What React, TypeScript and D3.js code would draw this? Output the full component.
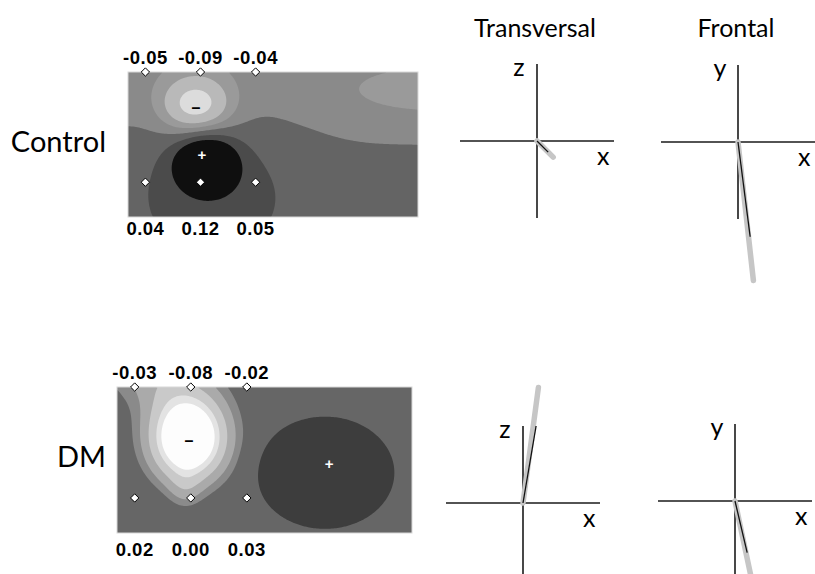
import React, { useMemo } from 'react';
import * as d3 from 'd3';

const W = 815;
const H = 574;

// electrode readings (top row / bottom row)
const controlTop = ['-0.05', '-0.09', '-0.04'];
const controlBottom = ['0.04', '0.12', '0.05'];
const dmTop = ['-0.03', '-0.08', '-0.02'];
const dmBottom = ['0.02', '0.00', '0.03'];

// map domain is 100 x 50 grid units; electrodes sit on this grid
const electrodeCols = [6, 25, 44];
const electrodeRows = [0, 38];

// field sources: [x, y, amplitude, sx, sy, flatness]
const controlSources = [
  [23.4, 11.4, -0.085, 8.3, 6.9, 1],
  [26.9, 31.0, 0.1, 6.9, 6.2, 1],
  [29.0, 37.9, 0.035, 18.5, 13.8, 1],
  [105, 7, -0.03, 18, 5, 1],
];
const dmSources = [
  [24.1, 17.5, -0.12, 10.2, 11.9, 1],
  [23, 36, -0.015, 4, 5, 1],
  [10, -5, -0.03, 12, 8, 1],
  [70.5, 28.8, 0.06, 16.9, 13.8, 3],
  [104, -4, -0.02, 8, 9, 1],
];
// baseline value at top and bottom edge of the map
const controlBase = [-0.022, 0.002];
const dmBase = [-0.01, 0.0];

const controlThresholds = [-0.08, -0.05, -0.03, -0.01, 0.015, 0.04];
const controlGrays = ['#dcdcdc', '#b9b9b9', '#9a9a9a', '#8a8a8a', '#646464', '#4b4b4b', '#0f0f0f'];
const dmThresholds = [-0.088, -0.076, -0.058, -0.041, -0.029, 0.02];
const dmGrays = ['#fdfdfd', '#e3e3e3', '#c9c9c9', '#aaaaaa', '#8a8a8a', '#666666', '#3d3d3d'];

// extrema markers [x, y, sign]
const controlExtrema = [[23.4, 12.4, '-'], [25.5, 28.6, '+']];
const dmExtrema = [[24.4, 18.3, '-'], [71.9, 26.1, '+']];

// heart vectors, in axis units (gray = max vector, black = mean)
const controlTransGray = [0.21, -0.21];
const controlTransBlack = [0.145, -0.145];
const controlFrontGray = [0.2, -1.8];
const controlFrontBlack = [0.158, -1.23];
const dmTransGray = [0.2, 1.5];
const dmTransBlack = [0.17, 1.0];
const dmFrontGray = [0.25, -1.18];
const dmFrontBlack = [0.158, -0.67];

const NX = 200;
const NY = 100;

function fieldGrid(sources, base) {
  const values = new Array(NX * NY);
  for (let j = 0; j < NY; j++) {
    for (let i = 0; i < NX; i++) {
      const gx = ((i + 0.5) / NX) * 100;
      const gy = ((j + 0.5) / NY) * 50;
      let v = base[0] + ((base[1] - base[0]) * gy) / 50;
      for (const [cx, cy, a, sx, sy, p] of sources) {
        const r2 = ((gx - cx) / sx) ** 2 + ((gy - cy) / sy) ** 2;
        v += a * Math.exp(-Math.pow(r2 / 2, p));
      }
      values[i + j * NX] = v;
    }
  }
  return values;
}

const labelFont = 'Liberation Sans, Arial, sans-serif';

const MapPanel = ({ x0, y0, w, h, sources, base, thresholds, grays, top, bottom, extrema, bottomGap }) => {
  const x = d3.scaleLinear().domain([0, 100]).range([x0, x0 + w]);
  const y = d3.scaleLinear().domain([0, 50]).range([y0, y0 + h]);
  const gx = d3.scaleLinear().domain([0, NX]).range([x0, x0 + w]);
  const gy = d3.scaleLinear().domain([0, NY]).range([y0, y0 + h]);

  const bands = useMemo(() => {
    const values = fieldGrid(sources, base);
    return d3.contours().size([NX, NY]).thresholds(thresholds)(values);
  }, [sources, base, thresholds]);

  const path = d3.geoPath(
    d3.geoTransform({
      point(px, py) {
        this.stream.point(gx(px), gy(py));
      },
    })
  );
  const diamond = d3.symbol(d3.symbolDiamond2, 44)();

  return (
    <g>
      <rect x={x0} y={y0} width={w} height={h} fill={grays[0]} />
      {bands.map((b, i) => (
        <path key={i} d={path(b)} fill={grays[i + 1]} />
      ))}
      <rect x={x0} y={y0} width={w} height={h} fill="none" stroke="#d8d8d8" strokeWidth={1} />
      {extrema.map(([ex, ey, s], i) => (
        <text
          key={i}
          x={x(ex)}
          y={y(ey)}
          textAnchor="middle"
          dominantBaseline="central"
          fontFamily={labelFont}
          fontWeight="bold"
          fontSize={s === '+' ? 15 : 16}
          fill={s === '+' ? '#fff' : '#000'}
        >
          {s === '+' ? '+' : '\u2013'}
        </text>
      ))}
      {electrodeRows.map((r) =>
        electrodeCols.map((c) => (
          <path
            key={`${r}-${c}`}
            d={diamond}
            transform={`translate(${x(c)},${y(r)})`}
            fill="#fff"
            stroke="#000"
            strokeWidth={1}
          />
        ))
      )}
      {top.map((t, i) => (
        <text
          key={`t${i}`}
          x={x(electrodeCols[i])}
          y={y(0) - 8}
          textAnchor="middle"
          fontFamily={labelFont}
          fontWeight="bold"
          fontSize={18.5}
          letterSpacing={0.5}
        >
          {t}
        </text>
      ))}
      {bottom.map((t, i) => (
        <text
          key={`b${i}`}
          x={x(electrodeCols[i])}
          y={y(50) + bottomGap}
          textAnchor="middle"
          fontFamily={labelFont}
          fontWeight="bold"
          fontSize={18.5}
          letterSpacing={0.5}
        >
          {t}
        </text>
      ))}
    </g>
  );
};

const font = 'Lato, Open Sans, sans-serif';

const VectorPanel = ({ cx, cy, gray, black, vLabel }) => {
  const x = d3.scaleLinear().domain([-1, 1]).range([cx - 77, cx + 77]);
  const y = d3.scaleLinear().domain([-1, 1]).range([cy + 77, cy - 77]);
  const line = d3.line();
  return (
    <g>
      <line x1={x(-1)} x2={x(1)} y1={y(0)} y2={y(0)} stroke="#1a1a1a" strokeWidth={1.6} />
      <line x1={x(0)} x2={x(0)} y1={y(1)} y2={y(-1)} stroke="#1a1a1a" strokeWidth={1.6} />
      <path
        d={line([[x(0), y(0)], [x(gray[0]), y(gray[1])]])}
        stroke="#c6c6c6"
        strokeWidth={5.5}
        strokeLinecap="round"
        fill="none"
      />
      <path
        d={line([[x(0), y(0)], [x(black[0]), y(black[1])]])}
        stroke="#111"
        strokeWidth={1.3}
        fill="none"
      />
      <text x={x(0) - 18} y={y(1) + 12} textAnchor="middle" fontFamily={font} fontSize={25}>
        {vLabel}
      </text>
      <text x={x(0.86)} y={y(0) + 24} textAnchor="middle" fontFamily={font} fontSize={25}>
        x
      </text>
    </g>
  );
};

export default function App() {
  return (
    <svg
      width={W}
      height={H}
      style={{ position: 'absolute', left: 0, top: 0, background: '#fff' }}
    >
      <text x={535} y={37} textAnchor="middle" fontFamily={font} fontSize={25}>
        Transversal
      </text>
      <text x={736} y={37} textAnchor="middle" fontFamily={font} fontSize={25}>
        Frontal
      </text>
      <text x={106} y={152} textAnchor="end" fontFamily={font} fontSize={29}>
        Control
      </text>
      <text x={106} y={467} textAnchor="end" fontFamily={font} fontSize={29}>
        DM
      </text>

      <MapPanel
        x0={128}
        y0={72}
        w={290}
        h={145}
        sources={controlSources}
        base={controlBase}
        thresholds={controlThresholds}
        grays={controlGrays}
        top={controlTop}
        bottom={controlBottom}
        extrema={controlExtrema}
        bottomGap={18}
      />
      <MapPanel
        x0={117}
        y0={387}
        w={295}
        h={146}
        sources={dmSources}
        base={dmBase}
        thresholds={dmThresholds}
        grays={dmGrays}
        top={dmTop}
        bottom={dmBottom}
        extrema={dmExtrema}
        bottomGap={23}
      />

      <VectorPanel cx={537} cy={141} gray={controlTransGray} black={controlTransBlack} vLabel="z" />
      <VectorPanel cx={738} cy={142} gray={controlFrontGray} black={controlFrontBlack} vLabel="y" />
      <VectorPanel cx={523} cy={503} gray={dmTransGray} black={dmTransBlack} vLabel="z" />
      <VectorPanel cx={735} cy={501} gray={dmFrontGray} black={dmFrontBlack} vLabel="y" />
    </svg>
  );
}
